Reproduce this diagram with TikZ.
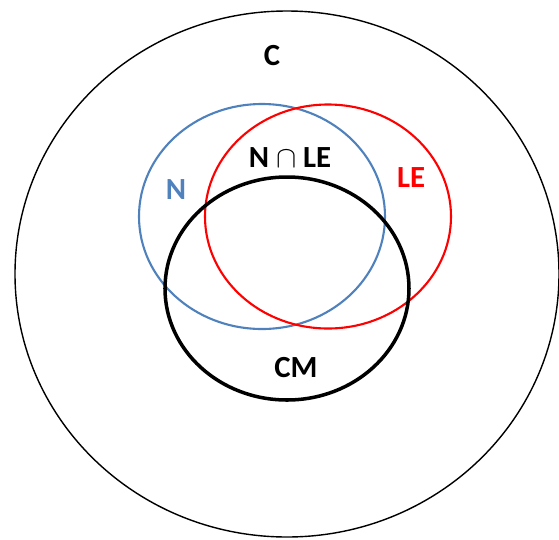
\documentclass[tikz,border=0pt]{standalone}
\usepackage{fontspec}
\setmainfont{Carlito}
\usepackage{tikz}
\usetikzlibrary{positioning}
\definecolor{setBlue}{RGB}{79,129,189}
\definecolor{setRed}{RGB}{255,0,0}

\begin{document}
\begin{tikzpicture}[
  x=0.02cm, y=-0.02cm,
  lbl/.style={font=\fontsize{17.5}{20}\selectfont\bfseries},
]
  \useasboundingbox (0,0) rectangle (559,539);
  % outer set and the three circles
  \draw[line width=0.8pt] (287,274) ellipse [x radius=272, y radius=263];
  \draw[setBlue, line width=1.2pt] (262,216.5) ellipse [x radius=123, y radius=112.5];
  \draw[setRed, line width=1.2pt] (328,216.5) ellipse [x radius=123, y radius=112];
  \draw[line width=2pt] (287,288.5) ellipse [x radius=122, y radius=111.5];
  % labels
  \node[lbl] (c) at (272,56) {C};
  \node[lbl, setBlue] (n) at (176,190) {N};
  \node[lbl] (nle) at (290,158) {N $\cap$ LE};
  \node[lbl, setRed] (le) at (411,178) {LE};
  \node[lbl] (cm) at (296,368) {CM};
\end{tikzpicture}
\end{document}
